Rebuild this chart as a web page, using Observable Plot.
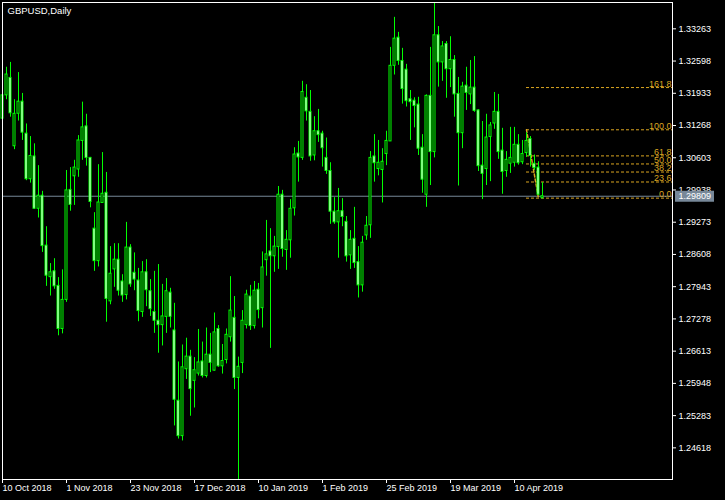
<!DOCTYPE html>
<html>
<head>
<meta charset="utf-8">
<script src="https://cdn.jsdelivr.net/npm/d3@7"></script>
<script src="https://cdn.jsdelivr.net/npm/@observablehq/plot@0.6"></script>
<style>
  html, body { margin: 0; padding: 0; background: #000; }
  #chart svg { display: block; }
</style>
</head>
<body>
<div id="chart"></div>
<script>
// GBPUSD daily bars, index 0 = 10 Oct 2018
const open = [
1.3141,1.3189,1.3225,1.3084,1.3151,1.3176,1.3110,1.3016,1.3063,1.2955,
1.2982,1.2879,1.2814,1.2826,1.2796,1.2707,1.2767,1.2994,1.3022,1.3036,
1.3095,1.3125,1.3060,1.2914,1.2847,1.2967,1.2988,1.2764,1.2830,1.2850,
1.2805,1.2777,1.2875,1.2823,1.2807,1.2742,1.2824,1.2785,1.2742,1.2724,
1.2715,1.2732,1.2782,1.2704,1.2559,1.2486,1.2624,1.2650,1.2600,1.2615,
1.2640,1.2610,1.2654,1.2621,1.2707,1.2630,1.2643,1.2690,1.2730,1.2606,
1.2637,1.2715,1.2774,1.2713,1.2788,1.2750,1.2849,1.2867,1.2857,1.2876,
1.2984,1.2870,1.2890,1.2956,1.3069,1.3060,1.3184,1.3155,1.3065,1.3115,
1.3110,1.3060,1.3033,1.2949,1.2927,1.2950,1.2928,1.2859,1.2893,1.2845,
1.2797,1.2900,1.2921,1.3063,1.3037,1.3035,1.3068,1.3094,1.3250,1.3308,
1.3260,1.3242,1.3181,1.3178,1.3170,1.3081,1.2984,1.3188,1.3072,1.3313,
1.3257,1.3295,1.3243,1.3262,1.3192,1.3111,1.3209,1.3191,1.3205,1.3158,
1.3044,1.3037,1.3103,1.3131,1.3155,1.3075,1.3033,1.3048,1.3050,1.3087,
1.3051,1.3070,1.3099,1.3048,1.3040,1.2977];
const high = [
1.3195,1.3247,1.3257,1.3180,1.3236,1.3193,1.3130,1.3104,1.3089,1.3044,
1.2991,1.2918,1.2842,1.2852,1.2813,1.2829,1.3034,1.3040,1.3055,1.3106,
1.3175,1.3150,1.3061,1.2947,1.3046,1.3071,1.3030,1.2877,1.2883,1.2883,
1.2819,1.2927,1.2881,1.2864,1.2832,1.2846,1.2850,1.2809,1.2826,1.2840,
1.2799,1.2811,1.2791,1.2760,1.2639,1.2674,1.2688,1.2663,1.2648,1.2706,
1.2680,1.2709,1.2698,1.2740,1.2714,1.2675,1.2707,1.2815,1.2774,1.2649,
1.2745,1.2787,1.2797,1.2805,1.2801,1.2866,1.2931,1.2914,1.2898,1.3001,
1.2993,1.2910,1.2974,1.3081,1.3094,1.3218,1.3211,1.3199,1.3145,1.3160,
1.3115,1.3101,1.3050,1.2978,1.2997,1.2976,1.2939,1.2910,1.2958,1.2877,
1.2898,1.2939,1.3073,1.3108,1.3096,1.3079,1.3115,1.3288,1.3350,1.3319,
1.3286,1.3253,1.3199,1.3184,1.3185,1.3108,1.3190,1.3288,1.3379,1.3331,
1.3300,1.3300,1.3310,1.3271,1.3226,1.3216,1.3247,1.3261,1.3269,1.3159,
1.3135,1.3150,1.3133,1.3195,1.3191,1.3121,1.3073,1.3123,1.3123,1.3108,
1.3096,1.3112,1.3104,1.3066,1.3052,1.3009];
const low = [
1.3135,1.3180,1.3144,1.3077,1.3136,1.3096,1.3013,1.3008,1.2954,1.2936,
1.2865,1.2795,1.2775,1.2789,1.2693,1.2697,1.2762,1.2950,1.2962,1.3020,
1.3055,1.3043,1.2957,1.2826,1.2835,1.2967,1.2721,1.2757,1.2793,1.2775,
1.2762,1.2767,1.2793,1.2786,1.2722,1.2731,1.2753,1.2733,1.2698,1.2657,
1.2672,1.2698,1.2709,1.2507,1.2480,1.2476,1.2603,1.2527,1.2544,1.2610,
1.2606,1.2606,1.2617,1.2620,1.2628,1.2614,1.2635,1.2680,1.2582,1.2396,
1.2615,1.2707,1.2704,1.2707,1.2728,1.2709,1.2816,1.2667,1.2824,1.2830,
1.2855,1.2828,1.2853,1.2940,1.3010,1.3055,1.3136,1.3053,1.3054,1.3092,
1.3041,1.3026,1.2923,1.2923,1.2853,1.2918,1.2845,1.2830,1.2832,1.2771,
1.2783,1.2890,1.2894,1.3010,1.3023,1.2967,1.3044,1.3094,1.3231,1.3251,
1.3171,1.3165,1.3096,1.3122,1.3065,1.2987,1.2958,1.3003,1.3060,1.3206,
1.3218,1.3183,1.3205,1.3144,1.3002,1.3079,1.3158,1.3170,1.3154,1.3032,
1.2974,1.3003,1.3011,1.3119,1.3057,1.2985,1.3020,1.3028,1.3041,1.3045,
1.3046,1.3061,1.3041,1.3034,1.2982,1.2975];
const close = [
1.3189,1.3232,1.3152,1.3151,1.3176,1.3112,1.3016,1.3064,1.2955,1.2982,
1.2878,1.2817,1.2824,1.2795,1.2707,1.2767,1.2993,1.2963,1.3040,1.3096,
1.3123,1.3060,1.2969,1.2847,1.2968,1.2986,1.2769,1.2821,1.2850,1.2786,
1.2776,1.2875,1.2799,1.2809,1.2744,1.2824,1.2787,1.2748,1.2724,1.2715,
1.2733,1.2785,1.2732,1.2561,1.2486,1.2628,1.2650,1.2583,1.2622,1.2638,
1.2610,1.2654,1.2637,1.2700,1.2630,1.2641,1.2695,1.2745,1.2606,1.2629,
1.2724,1.2778,1.2713,1.2786,1.2746,1.2834,1.2861,1.2857,1.2877,1.2984,
1.2872,1.2891,1.2955,1.3067,1.3061,1.3196,1.3156,1.3063,1.3115,1.3107,
1.3080,1.3033,1.2949,1.2927,1.2950,1.2938,1.2857,1.2891,1.2843,1.2797,
1.2885,1.2920,1.3060,1.3049,1.3050,1.3052,1.3095,1.3250,1.3306,1.3260,
1.3202,1.3177,1.3175,1.3167,1.3079,1.3015,1.3188,1.3072,1.3313,1.3257,
1.3290,1.3243,1.3262,1.3191,1.3111,1.3207,1.3194,1.3205,1.3157,1.3043,
1.3027,1.3102,1.3127,1.3155,1.3072,1.3031,1.3056,1.3060,1.3087,1.3049,
1.3068,1.3095,1.3064,1.3039,1.2984,1.29809];

// axis ticks
const xTickBars = [0, 16, 32, 48, 64, 80, 96, 112, 128];
const xTickLabels = ["10 Oct 2018","1 Nov 2018","23 Nov 2018","17 Dec 2018","10 Jan 2019","1 Feb 2019","25 Feb 2019","19 Mar 2019","10 Apr 2019"];
const yTicks = [1.33263,1.32598,1.31933,1.31268,1.30603,1.29938,1.29273,1.28608,1.27943,1.27278,1.26613,1.25948,1.25283,1.24618];

// Fibonacci retracement
const fibAnchorBars = [131, 134];
const fibAnchorPrices = [1.3118, 1.2977];   // 100% and 0% points
const fibLevels = [0, 23.6, 38.2, 50, 61.8, 100, 161.8];

const lastPrice = close[close.length - 1];
const candles = open.map((o, i) => ({i, o, h: high[i], l: low[i], c: close[i]}));
const bear = candles.filter(d => d.c < d.o);
const bull = candles.filter(d => d.c >= d.o);
const fib = fibLevels.map(l => ({
  l, p: fibAnchorPrices[1] + l / 100 * (fibAnchorPrices[0] - fibAnchorPrices[1]), t: l.toFixed(1)
}));
const fibLine = fibAnchorBars.map((b, j) => ({b, p: fibAnchorPrices[j]}));

const GREEN = "#00ff00", FIB = "#daa520", PRICE = "#778899";
const FONT = "'Liberation Sans', Arial, sans-serif";

const chart = Plot.plot({
  width: 725,
  height: 500,
  marginLeft: 2,
  marginRight: 53,
  marginTop: 2,
  marginBottom: 21,
  style: {background: "#000", color: "#fff", fontSize: "9px", fontFamily: FONT},
  x: {domain: [0, 167.5], axis: "bottom", ticks: xTickBars, tickSize: 4, tickFormat: () => "", label: null},
  y: {domain: [1.23965, 1.33806], axis: "right", ticks: yTicks, tickSize: 3, tickPadding: 3,
      tickFormat: d => d.toFixed(5), label: null},
  marks: [
    Plot.ruleY([lastPrice], {stroke: PRICE}),
    Plot.ruleY(fib, {y: "p", x1: fibAnchorBars[0], x2: 167.5, stroke: FIB, strokeDasharray: "3,2"}),
    Plot.line(fibLine, {x: "b", y: "p", stroke: FIB, strokeDasharray: "3,2"}),
    Plot.text(fib, {y: "p", text: "t", frameAnchor: "right", textAnchor: "end", lineAnchor: "bottom",
      dx: -1, dy: -1, fill: FIB, fontSize: 9}),
    Plot.ruleX(candles, {x: "i", y1: "l", y2: "h", stroke: GREEN}),
    Plot.rect(bull, {x1: d => d.i - 0.25, x2: d => d.i + 0.25, y1: "o", y2: "c", fill: "#000", stroke: GREEN}),
    Plot.rect(bear, {x1: d => d.i - 0.25, x2: d => d.i + 0.25, y1: "c", y2: "o", fill: "#fff", stroke: GREEN}),
    Plot.frame({stroke: "#fff"}),
    Plot.text(["GBPUSD,Daily"], {text: d => d, frameAnchor: "top-left", textAnchor: "start", lineAnchor: "middle",
      dx: 5, dy: 8, fill: "#fff", fontSize: 9.5}),
    Plot.text(xTickBars, {x: d => d, text: (d, j) => xTickLabels[j], frameAnchor: "bottom", textAnchor: "start",
      lineAnchor: "middle", dy: 9, fill: "#fff", fontSize: 9}),
    Plot.ruleY([lastPrice], {x1: 168.25, x2: 178, stroke: PRICE, strokeWidth: 11}),
    Plot.text([lastPrice], {y: d => d, text: d => d.toFixed(5), frameAnchor: "right", textAnchor: "start",
      dx: 6, fill: "#fff", fontSize: 9})
  ]
});
document.getElementById("chart").append(chart);
</script>
</body>
</html>
